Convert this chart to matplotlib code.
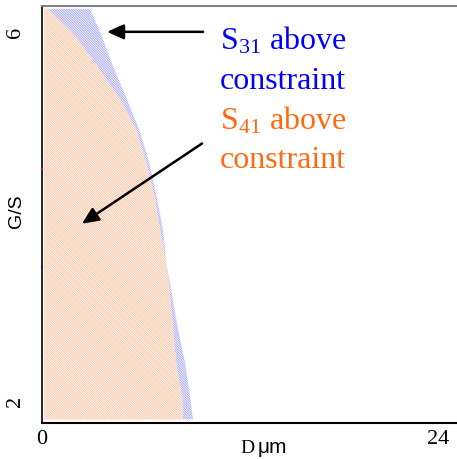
import matplotlib
matplotlib.use("Agg")
import matplotlib.pyplot as plt
import numpy as np

# Boundary of region where S41 is above constraint (D in um vs G/S)
s41_gs = [6.25, 6.00, 5.63, 5.27, 4.92, 4.55, 4.19, 3.86, 3.51, 3.15, 2.78, 2.42, 2.05, 1.80]
s41_d = [0.30, 1.82, 3.33, 4.73, 5.76, 6.36, 6.85, 7.15, 7.52, 7.76, 7.94, 8.12, 8.48, 8.55]
# Boundary of region where S31 is above constraint
s31_gs = [6.25, 6.00, 5.63, 5.27, 4.92, 4.55, 4.19, 3.86, 3.51, 3.15, 2.78, 2.42, 2.05, 1.80]
s31_d = [2.91, 3.52, 4.30, 5.15, 5.94, 6.55, 6.97, 7.33, 7.52, 7.88, 8.24, 8.67, 8.97, 9.15]

xticks = [0, 24]
yticks = [2, 6]
xlim = (0, 25.15)
ylim = (1.76, 6.28)

W, H = 457, 460
fig = plt.figure(figsize=(W / 100, H / 100), dpi=100)
ax = fig.add_axes([42 / W, (H - 424) / H, (W - 42) / W, (424 - 7) / H])

plt.rcParams['hatch.linewidth'] = 0.5
ax.fill_betweenx(s31_gs, 0.12, s31_d, facecolor='white', edgecolor='#8a8aff',
                 hatch='\\' * 14, linewidth=0)
ax.fill_betweenx(s41_gs, 0.12, s41_d, facecolor='white', edgecolor='#ffb080',
                 hatch='\\' * 14, linewidth=0)

ax.set_xlim(*xlim)
ax.set_ylim(*ylim)
ax.set_xticks(xticks)
ax.set_yticks(yticks)
ax.set_xticklabels([str(v) for v in xticks], family='Liberation Serif', fontsize=16)
ax.set_yticklabels([str(v) for v in yticks], family='Liberation Serif', fontsize=16,
                   rotation=90, va='center')
ax.tick_params(axis='x', length=0, pad=4)
ax.tick_params(axis='y', length=0, pad=12)

ax.spines['right'].set_visible(False)
ax.spines['top'].set_color('#808080')
ax.spines['top'].set_linewidth(1.5)
ax.spines['left'].set_linewidth(1.2)
ax.spines['bottom'].set_linewidth(1.5)

# small marks on the left axis
ax.plot([0.0], [4.51], marker='s', ms=1.5, mew=0, color='red', clip_on=False, zorder=5)
ax.plot([0.0], [3.45], marker='s', ms=1.5, mew=0, color='blue', clip_on=False, zorder=5)

# arrows
ax.annotate('', xy=(3.94, 6.0), xytext=(9.76, 6.0),
            arrowprops=dict(arrowstyle='-|>,head_length=1.0,head_width=0.45',
                            color='black', lw=1.8, shrinkA=0, shrinkB=0))
ax.annotate('', xy=(2.42, 3.92), xytext=(9.70, 4.79),
            arrowprops=dict(arrowstyle='-|>,head_length=1.0,head_width=0.45',
                            color='black', lw=1.8, shrinkA=0, shrinkB=0))

plt.rcParams['mathtext.fontset'] = 'custom'
plt.rcParams['mathtext.rm'] = 'Liberation Serif'
plt.rcParams['mathtext.it'] = 'Liberation Serif'

fs = 23
blue = '#0000ff'
orange = '#ff6a10'
fig.text(220 / W, 1 - 50 / H, r'S$_{\mathrm{31}}$ above', color=blue, fontsize=fs,
         family='Liberation Serif', ha='left', va='baseline')
fig.text(220 / W, 1 - 89 / H, 'constraint', color=blue, fontsize=fs,
         family='Liberation Serif', ha='left', va='baseline')
fig.text(220 / W, 1 - 130 / H, r'S$_{\mathrm{41}}$ above', color=orange, fontsize=fs,
         family='Liberation Serif', ha='left', va='baseline')
fig.text(220 / W, 1 - 168 / H, 'constraint', color=orange, fontsize=fs,
         family='Liberation Serif', ha='left', va='baseline')

# axis labels
fig.text(16 / W, 1 - 211 / H, 'G/S', rotation=90, fontsize=14,
         family='Liberation Sans', ha='center', va='center')
fig.text(240 / W, 1 - 453 / H, 'D', fontsize=14, family='Liberation Serif',
         ha='left', va='baseline')
fig.text(258 / W, 1 - 453 / H, 'μm', fontsize=15, family='Liberation Sans',
         ha='left', va='baseline')

fig.savefig('out.png', dpi=100)
